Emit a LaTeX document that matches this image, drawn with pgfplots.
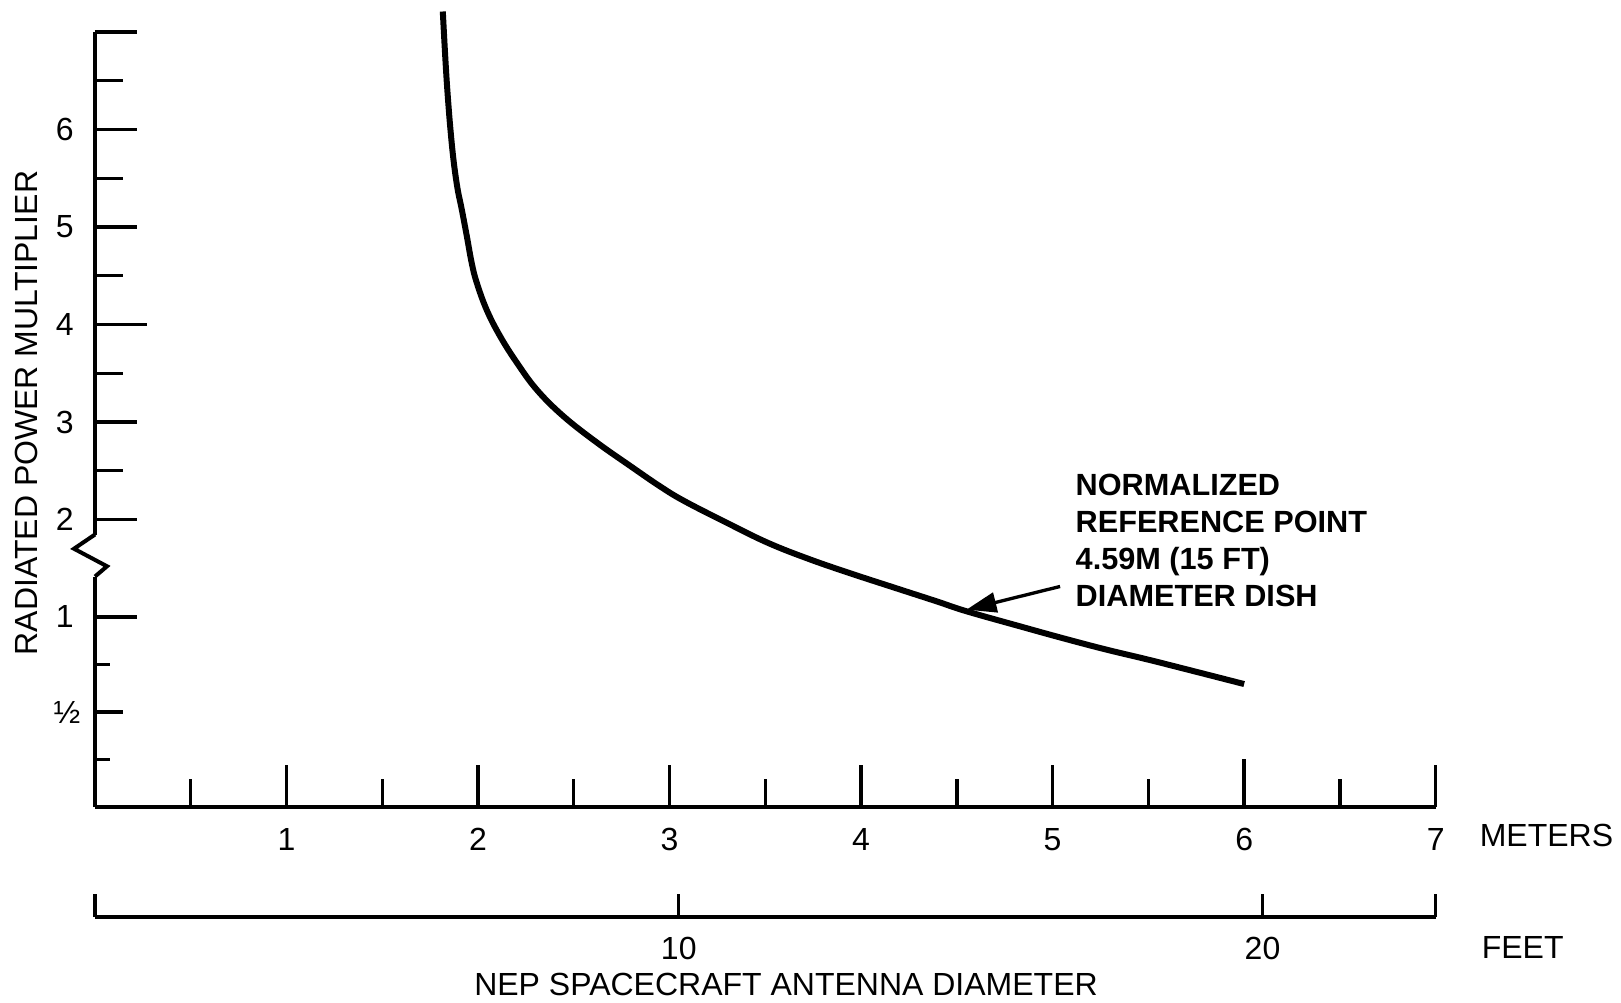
\documentclass[border=0pt]{standalone}
\usepackage{fontspec}
\setmainfont{Liberation Sans}
\usepackage{pgfplots}
\pgfplotsset{compat=1.18}
\usetikzlibrary{arrows.meta}

% diameter (m) vs radiated power multiplier
\pgfplotstableread{
d      mult
1.816  7.21
1.837  6.48
1.863  5.85
1.889  5.44
1.915  5.18
1.941  4.91
1.967  4.63
1.993  4.43
2.045  4.15
2.115  3.88
2.202  3.61
2.307  3.33
2.445  3.06
2.620  2.79
2.794  2.55
2.950  2.34
3.076  2.19
3.295  1.97
3.514  1.76
3.734  1.59
3.956  1.44
4.175  1.30
4.395  1.16
4.548  1.06
4.836  0.949
5.055  0.888
5.274  0.830
5.493  0.777
5.713  0.721
6.000  0.647
}\curve

\begin{document}
\begin{tikzpicture}[font=\fontsize{9.6}{11}\selectfont]
\path[use as bounding box] (-28.5pt,-58.5pt) rectangle (457.8pt,242.1pt);

\begin{axis}[
    scale only axis,
    width=402.2pt, height=232.5pt,
    xmin=0, xmax=7, ymin=0, ymax=7,
    % broken scale: values below 1 are drawn at about twice the spacing
    y coord trafo/.code={\pgfmathparse{#1>=1 ? #1 : 1.949*#1-0.949}},
    y coord inv trafo/.code={\pgfmathparse{#1>=1 ? #1 : (#1+0.949)/1.949}},
    axis x line=bottom, axis y line=left,
    axis line style={-, line width=1.2pt},
    tick align=inside,
    major tick length=12.5pt, minor tick length=8.5pt,
    tick style={black, line width=1pt},
    xtick={1,2,3,4,5,6,7},
    xticklabels={1,2,3,4,5,6,7},
    minor xtick={0.5,1.5,2.5,3.5,4.5,5.5,6.5},
    ytick={1,2,3,4,5,6,7},
    yticklabels={1,2,3,4,5,6,{}},
    minor ytick={0.5,2.5,3.5,4.5,5.5,6.5},
    extra y ticks={0.25,0.75},
    extra y tick labels={},
    extra y tick style={major tick length=4.5pt},
    xticklabel style={yshift=-2.8pt},
    yticklabel style={xshift=-2.9pt},
    clip=false,
]
\addplot[black, line width=1.8pt, smooth, tension=0.65] table[x=d, y=mult] {\curve};

\node[xshift=-8.4pt] at (axis cs:0,0.5) {½};
\draw[line width=1pt, -{Triangle[length=9pt,width=6pt]}]
    (axis cs:5.039,1.313) -- (axis cs:4.55,1.075);
\node[anchor=north west, inner sep=0pt, align=left,
      font=\bfseries\fontsize{9.2}{11.1}\selectfont]
    at (axis cs:5.117,2.477)
    {NORMALIZED\\REFERENCE POINT\\4.59M (15 FT)\\DIAMETER DISH};

% the longer ticks at 4 and at 6 m
\draw[line width=1pt] (axis cs:0,4) -- ++(15.5pt,0pt);
\draw[line width=1pt] (axis cs:6,0) -- ++(0pt,14.5pt);

\coordinate (zA) at (axis cs:0,1.846);
\coordinate (zL) at (axis cs:0,1.70);
\coordinate (zR) at (axis cs:0,1.52);
\coordinate (zB) at (axis cs:0,1.415);
\end{axis}

% axis break
\fill[white] ([xshift=-2pt]zB) rectangle ([xshift=2pt]zA);
\draw[line width=1.2pt] (zA) -- ([xshift=-6.3pt]zL) -- ([xshift=3.6pt]zR) -- (zB);

% second scale in feet
\begin{axis}[
    at={(0pt,-33pt)}, anchor=south west,
    scale only axis,
    width=402.2pt, height=5pt,
    xmin=0, xmax=22.966, ymin=0, ymax=1,
    axis x line=bottom, axis y line=none,
    axis line style={-, line width=1.2pt},
    tick align=inside,
    major tick length=7pt,
    tick style={black, line width=1pt},
    xtick={0,10,20,22.966},
    xticklabels={{},10,20,{}},
    xticklabel style={yshift=-2.6pt},
]
\end{axis}

\node[anchor=west] at (411.9pt,-8.4pt) {METERS};
\node[anchor=west] at (412.5pt,-42pt) {FEET};
\node at (207.3pt,-53.1pt) {NEP SPACECRAFT ANTENNA DIAMETER};
\node[rotate=90] at (-20.7pt,118.2pt) {RADIATED POWER MULTIPLIER};
\end{tikzpicture}
\end{document}
